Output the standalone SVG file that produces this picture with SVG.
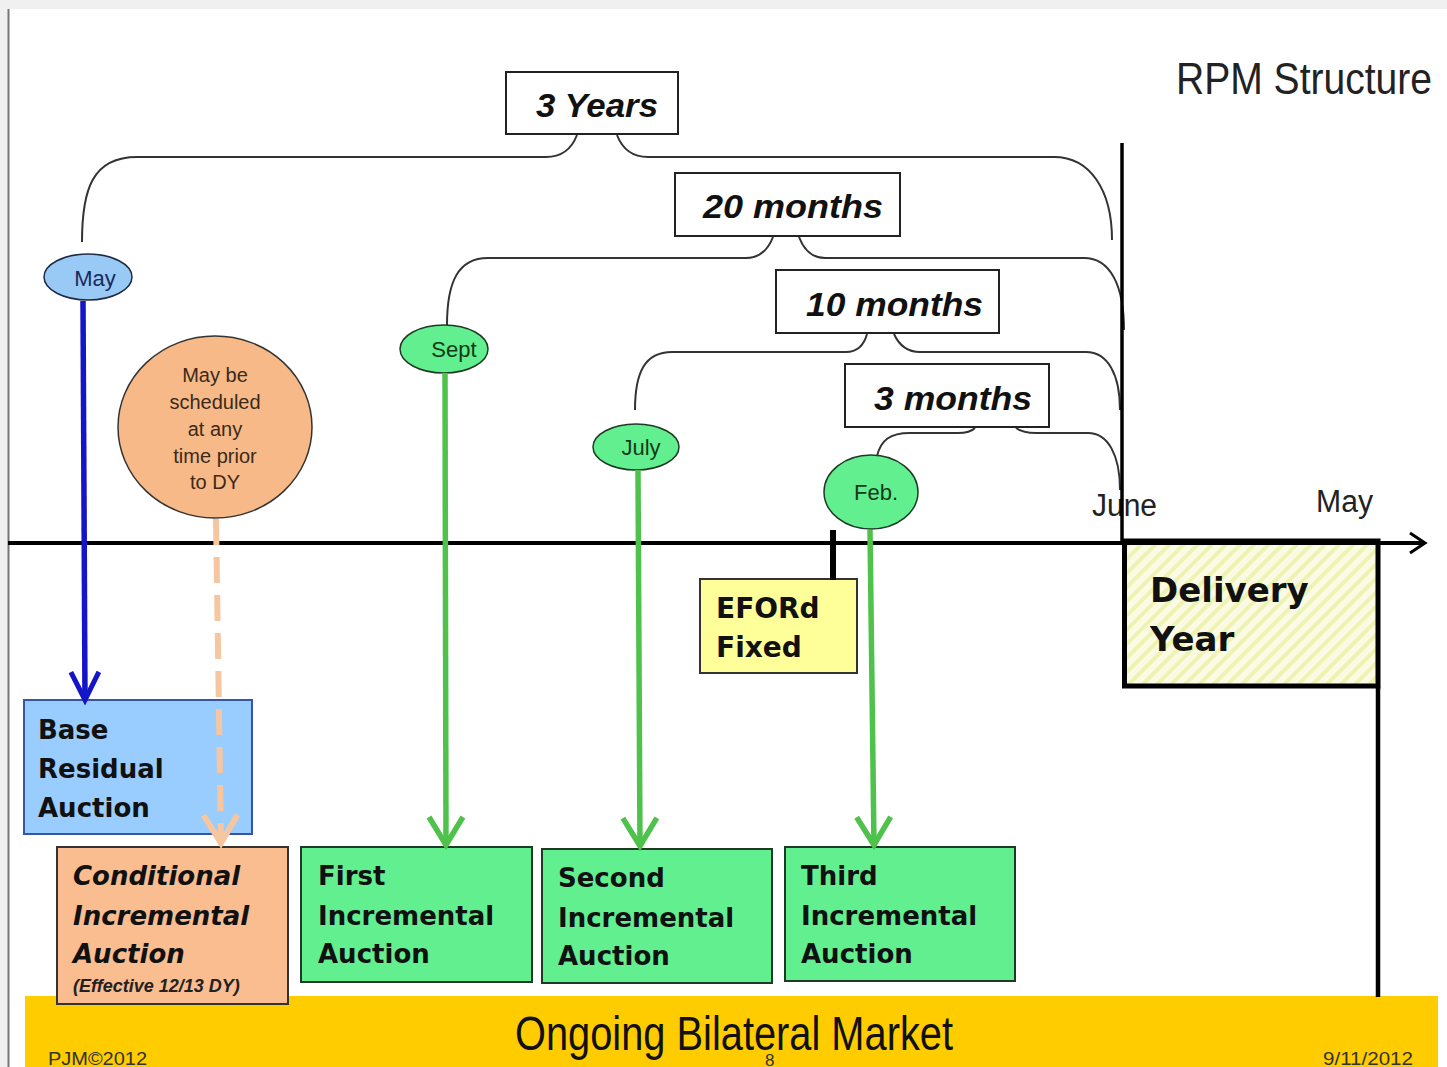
<svg xmlns="http://www.w3.org/2000/svg" width="1447" height="1067" viewBox="0 0 1447 1067">
<style>
.brk{fill:none;stroke:#333;stroke-width:2}
.lbl{font-family:"Liberation Sans",Arial,sans-serif;font-weight:bold;font-style:italic;font-size:34px;fill:#111}
.lblbox{fill:#fff;stroke:#222;stroke-width:2}
.box{font-family:"DejaVu Sans",Verdana,sans-serif;font-weight:bold;font-size:26px;fill:#111}
.ell{font-family:"Liberation Sans",Arial,sans-serif;font-size:22px;text-anchor:middle}
.grn{fill:#62ef90;stroke:#1e3a24;stroke-width:1.5}
.plain{font-family:"Liberation Sans",Arial,sans-serif;fill:#222}
.gl{stroke:#4ec24a;stroke-width:5.5;fill:none}
</style>
<defs>
<marker id="chevG" viewBox="0 0 36 40" markerWidth="36" markerHeight="40" refX="31" refY="20" orient="auto" markerUnits="userSpaceOnUse">
<path d="M3,3 L31,20 L3,37" fill="none" stroke="#4ec24a" stroke-width="5.5"/>
</marker>
<marker id="chevB" viewBox="0 0 36 36" markerWidth="36" markerHeight="36" refX="31" refY="18" orient="auto" markerUnits="userSpaceOnUse">
<path d="M3,4 L31,18 L3,32" fill="none" stroke="#1414c8" stroke-width="5"/>
</marker>
<marker id="chevO" viewBox="0 0 36 40" markerWidth="36" markerHeight="40" refX="31" refY="20" orient="auto" markerUnits="userSpaceOnUse">
<path d="M3,3 L31,20 L3,37" fill="none" stroke="#f6c6a0" stroke-width="6"/>
</marker>
<marker id="chevK" viewBox="0 0 20 24" markerWidth="20" markerHeight="24" refX="17" refY="12" orient="auto" markerUnits="userSpaceOnUse">
<path d="M2,2 L17,12 L2,22" fill="none" stroke="#000" stroke-width="3"/>
</marker>
<pattern id="hatch" width="10" height="10" patternUnits="userSpaceOnUse" patternTransform="rotate(45)">
<rect width="10" height="10" fill="#fbfbe4"/>
<rect width="4" height="10" fill="#eef3b4"/>
</pattern>
</defs>

<!-- background -->
<rect width="1447" height="1067" fill="#fff"/>
<rect width="1447" height="9" fill="#f0f0f0"/>
<rect width="8" height="1067" fill="#f0f0f0"/>
<line x1="8.5" y1="9" x2="8.5" y2="1067" stroke="#777" stroke-width="2"/>

<text id="title" x="1176" y="94" class="plain" style="font-size:44px" textLength="256" lengthAdjust="spacingAndGlyphs" fill="#333">RPM Structure</text>

<!-- bottom bar -->
<g id="bilateral">
<rect x="25" y="996" width="1413" height="71" fill="#ffcc00"/>
<text x="515" y="1050" class="plain" style="font-size:48px;fill:#111" textLength="438" lengthAdjust="spacingAndGlyphs">Ongoing Bilateral Market</text>
</g>
<text x="48" y="1065" class="plain" style="font-size:18px;fill:#333" textLength="99" lengthAdjust="spacingAndGlyphs">PJM©2012</text>
<text x="765" y="1066" class="plain" style="font-size:17px;fill:#333">8</text>
<text x="1323" y="1065" class="plain" style="font-size:18px;fill:#333" textLength="90" lengthAdjust="spacingAndGlyphs">9/11/2012</text>

<!-- duration labels -->
<g id="n-3years">
<rect class="lblbox" x="506" y="72" width="172" height="62"/>
<text class="lbl" x="536" y="117" textLength="122" lengthAdjust="spacingAndGlyphs">3 Years</text>
</g>
<g id="n-20months">
<rect class="lblbox" x="675" y="173" width="225" height="63"/>
<text class="lbl" x="703" y="218" textLength="180" lengthAdjust="spacingAndGlyphs">20 months</text>
</g>
<g id="n-10months">
<rect class="lblbox" x="776" y="270" width="223" height="63"/>
<text class="lbl" x="806" y="316" textLength="177" lengthAdjust="spacingAndGlyphs">10 months</text>
</g>
<g id="n-3months">
<rect class="lblbox" x="845" y="364" width="204" height="63"/>
<text class="lbl" x="874" y="410" textLength="158" lengthAdjust="spacingAndGlyphs">3 months</text>
</g>

<!-- month ellipses -->
<g id="n-may">
<ellipse cx="88" cy="277" rx="44" ry="23" fill="#99c9f5" stroke="#1e2a44" stroke-width="1.5"/>
<text class="ell" x="95" y="286" fill="#1a2a5a">May</text>
</g>
<g id="n-sept">
<ellipse class="grn" cx="444" cy="349" rx="44" ry="24"/>
<text class="ell" x="454" y="357" fill="#153a18">Sept</text>
</g>
<g id="n-july">
<ellipse class="grn" cx="636" cy="447" rx="43" ry="23"/>
<text class="ell" x="641" y="455" fill="#153a18">July</text>
</g>
<g id="n-feb">
<ellipse class="grn" cx="871" cy="492" rx="47" ry="37"/>
<text class="ell" x="876" y="500" fill="#153a18">Feb.</text>
</g>
<g id="n-note">
<ellipse cx="215" cy="427" rx="97" ry="91" fill="#f7b987" stroke="#333" stroke-width="1.5"/>
<g class="plain" style="font-size:20px;fill:#3a2a1a" text-anchor="middle">
<text x="215" y="382">May be</text>
<text x="215" y="409">scheduled</text>
<text x="215" y="436">at any</text>
<text x="215" y="463">time prior</text>
<text x="215" y="489">to DY</text>
</g>
</g>

<text id="june" x="1092" y="516" class="plain" style="font-size:31px" textLength="65" lengthAdjust="spacingAndGlyphs">June</text>
<text id="may-end" x="1316" y="512" class="plain" style="font-size:31px" textLength="57" lengthAdjust="spacingAndGlyphs">May</text>

<g id="n-delivery">
<rect x="1124.5" y="541" width="253.5" height="145" fill="url(#hatch)" stroke="#000" stroke-width="5"/>
<text class="box" style="font-size:34px" x="1150" y="602">Delivery</text>
<text class="box" style="font-size:34px" x="1150" y="651">Year</text>
</g>

<g id="n-eford">
<rect x="700" y="579" width="157" height="94" fill="#ffff99" stroke="#333" stroke-width="2"/>
<text class="box" style="font-size:28px" x="716" y="618">EFORd</text>
<text class="box" style="font-size:28px" x="716" y="657">Fixed</text>
</g>

<g id="n-bra">
<rect x="24" y="700" width="228" height="134" fill="#99ccff" stroke="#3355aa" stroke-width="2"/>
<text class="box" x="38" y="739">Base</text>
<text class="box" x="38" y="778">Residual</text>
<text class="box" x="38" y="817">Auction</text>
</g>

<g id="n-cia">
<rect x="57" y="847" width="231" height="157" fill="#f9bd8f" stroke="#333" stroke-width="2"/>
<text class="box" style="font-style:italic" x="73" y="885">Conditional</text>
<text class="box" style="font-style:italic" x="73" y="925">Incremental</text>
<text class="box" style="font-style:italic" x="73" y="963">Auction</text>
<text x="73" y="992" style="font-family:'Liberation Sans',Arial,sans-serif;font-weight:bold;font-style:italic;font-size:18px;fill:#222">(Effective 12/13 DY)</text>
</g>

<g id="n-first">
<rect x="301" y="847" width="231" height="135" fill="#62ef90" stroke="#1e3a24" stroke-width="2"/>
<text class="box" x="318" y="885">First</text>
<text class="box" x="318" y="925">Incremental</text>
<text class="box" x="318" y="963">Auction</text>
</g>
<g id="n-second">
<rect x="542" y="849" width="230" height="134" fill="#62ef90" stroke="#1e3a24" stroke-width="2"/>
<text class="box" x="558" y="887">Second</text>
<text class="box" x="558" y="927">Incremental</text>
<text class="box" x="558" y="965">Auction</text>
</g>
<g id="n-third">
<rect x="785" y="847" width="230" height="134" fill="#62ef90" stroke="#1e3a24" stroke-width="2"/>
<text class="box" x="801" y="885">Third</text>
<text class="box" x="801" y="925">Incremental</text>
<text class="box" x="801" y="963">Auction</text>
</g>

<!-- connectors -->
<g id="connectors">
<path class="brk" d="M82,242 C82,190 92,157 137,157 L546,157 C562,157 572,148 577,135"/>
<path class="brk" d="M617,135 C622,148 632,157 648,157 L1054,157 C1090,157 1112,190 1112,240"/>
<path class="brk" d="M447,325 C447,282 458,258 488,258 L746,258 C760,258 768,250 773,237"/>
<path class="brk" d="M799,237 C804,250 812,258 825,258 L1084,258 C1110,258 1124,285 1124,330"/>
<path class="brk" d="M635,410 C635,372 645,352 672,352 L846,352 C857,352 864,345 867,334"/>
<path class="brk" d="M894,334 C899,345 907,352 920,352 L1086,352 C1108,352 1120,375 1120,410"/>
<path class="brk" d="M877,456 C881,440 890,433 910,433 L958,433 C966,433 972,431 975,428"/>
<path class="brk" d="M1016,428 C1020,431 1026,433 1036,433 L1088,433 C1108,433 1120,455 1120,490"/>

<line x1="1122" y1="143" x2="1122" y2="543" stroke="#000" stroke-width="3.5"/>
<line x1="8" y1="543" x2="1425" y2="543" stroke="#000" stroke-width="4" marker-end="url(#chevK)"/>
<line x1="833" y1="530" x2="833" y2="580" stroke="#000" stroke-width="6"/>
<line x1="1378" y1="687" x2="1378" y2="997" stroke="#000" stroke-width="4.5"/>

<line x1="83" y1="301" x2="85" y2="700" stroke="#1414c8" stroke-width="5.5" marker-end="url(#chevB)"/>
<line x1="216" y1="519" x2="221" y2="843" stroke="#f6c6a0" stroke-width="6" stroke-dasharray="26 12" marker-end="url(#chevO)"/>
<line class="gl" x1="445" y1="373" x2="446" y2="845" marker-end="url(#chevG)"/>
<line class="gl" x1="638" y1="470" x2="640" y2="846" marker-end="url(#chevG)"/>
<line class="gl" x1="870" y1="530" x2="874" y2="845" marker-end="url(#chevG)"/>
</g>
</svg>
